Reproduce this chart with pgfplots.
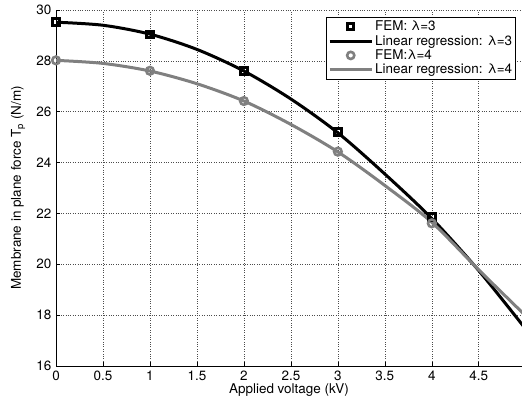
\documentclass[border=0pt]{standalone}
\usepackage{fontspec}
\setmainfont{TeX Gyre Heros}
\usepackage{pgfplots}
\pgfplotsset{compat=1.18}
\usetikzlibrary{calc}

\definecolor{fitgray}{RGB}{128,128,128}

\begin{document}
\fontsize{13.5}{16}\selectfont
\begin{tikzpicture}
\begin{axis}[
    name=ax,
    scale only axis,
    width=466bp, height=356bp,
    xmin=0, xmax=4.96,
    ymin=16, ymax=30,
    xtick={0,0.5,...,4.5},
    ytick={16,18,...,30},
    axis x line*=bottom,
    axis y line*=left,
    axis line style={-, line width=0.8pt},
    tick align=inside,
    major tick length=4bp,
    tick style={black, line width=0.6pt},
    grid=major,
    grid style={dotted, black!70, line width=0.6pt},
    /pgf/number format/assume math mode=true,
    xlabel={Applied voltage (kV)},
    ylabel={Membrane in plane force T\textsubscript{p} (N/m)},
    xlabel style={yshift=6bp},
    ylabel style={yshift=2bp},
    legend cell align=left,
    legend style={at={(1,1)}, anchor=north east, xshift=-6bp, yshift=-7bp,
        draw=black, line width=0.8pt, inner sep=1.5pt, row sep=-1.5pt},
]
% FEM, lambda = 3
\addplot[only marks, mark=square, mark size=3.4bp, black, line width=3bp,
    legend image code/.code={\draw[black, line width=3bp] (21bp,0bp) +(-3bp,-3bp) rectangle +(3bp,3bp);}] coordinates {
    (0,29.52) (1,29.04) (2,27.60) (3,25.19) (4,21.87)
};
\addlegendentry{FEM: λ=3}
% regression, lambda = 3
\addplot[black, line width=3bp, smooth, tension=0.5,
    legend image code/.code={\draw[black, line width=3bp] (0bp,0bp) -- (42bp,0bp);}] coordinates {
    (0,29.52) (0.5,29.40) (1,29.05) (1.5,28.45) (2,27.60) (2.5,26.50)
    (3,25.17) (3.5,23.55) (4,21.80) (4.5,19.75) (5,17.45)
};
\addlegendentry{Linear regression: λ=3}
% FEM, lambda = 4
\addplot[only marks, mark=o, mark size=3.8bp, fitgray, line width=2.6bp,
    legend image code/.code={\draw[fitgray, line width=2.6bp] (21bp,0bp) circle[radius=3.6bp];}] coordinates {
    (0,28.02) (1,27.61) (2,26.42) (3,24.43) (4,21.61)
};
\addlegendentry{FEM:λ=4}
% regression, lambda = 4
\addplot[fitgray, line width=3bp, smooth, tension=0.5,
    legend image code/.code={\draw[fitgray, line width=3bp] (0bp,0bp) -- (42bp,0bp);}] coordinates {
    (0,28.02) (0.5,27.90) (1,27.60) (1.5,27.10) (2,26.42) (2.5,25.50)
    (3,24.42) (3.5,23.10) (4,21.65) (4.5,19.78) (5,17.97)
};
\addlegendentry{Linear regression: λ=4}
\end{axis}
\pgfresetboundingbox
\path[use as bounding box] ($(ax.south west)+(-56bp,-38bp)$) rectangle ($(ax.north east)+(0,10bp)$);
\end{tikzpicture}
\end{document}
